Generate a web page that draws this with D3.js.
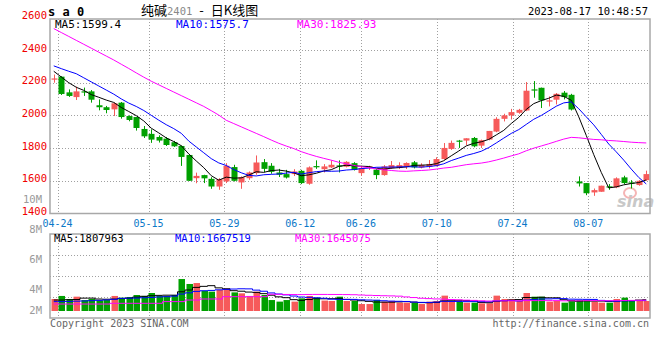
<!DOCTYPE html>
<html><head><meta charset="utf-8">
<script src="https://cdn.jsdelivr.net/npm/d3@7"></script>
<style>body{margin:0;background:#fff}svg{display:block}</style>
</head><body><svg id="c" width="660" height="360"></svg>
<script>
// ---------- data ----------
const dates = ["04-21","04-24","04-25","04-26","04-27","04-28","05-04","05-05","05-08","05-09","05-10","05-11","05-12","05-15","05-16","05-17","05-18","05-19","05-22","05-23","05-24","05-25","05-26","05-29","05-30","05-31","06-01","06-02","06-05","06-06","06-07","06-08","06-09","06-12","06-13","06-14","06-15","06-16","06-19","06-20","06-21","06-26","06-27","06-28","06-29","06-30","07-03","07-04","07-05","07-06","07-07","07-10","07-11","07-12","07-13","07-14","07-17","07-18","07-19","07-20","07-21","07-24","07-25","07-26","07-27","07-28","07-31","08-01","08-02","08-03","08-04","08-07","08-08","08-09","08-10","08-11","08-14","08-15","08-16","08-17"];
const open  = [2222,2237,2141,2112,2147,2147,2062,2050,2037,2078,1996,1990,1917,1887,1868,1858,1836,1813,1758,1616,1635,1612,1565,1596,1684,1590,1616,1647,1714,1692,1651,1641,1641,1661,1582,1690,1671,1682,1694,1686,1708,1647,1678,1668,1635,1678,1678,1688,1713,1682,1686,1692,1733,1795,1846,1846,1862,1815,1852,1901,1979,2000,2016,2030,2159,2169,2086,2096,2139,2126,1596,1586,1529,1533,1566,1560,1621,1590,1574,1604];
const high  = [2250,2240,2159,2176,2170,2155,2098,2058,2080,2082,2000,1990,1935,1915,1878,1868,1844,1817,1760,1650,1637,1622,1616,1708,1698,1627,1657,1755,1733,1708,1673,1667,1671,1667,1688,1725,1702,1725,1725,1720,1714,1692,1692,1672,1696,1721,1713,1713,1721,1707,1727,1744,1831,1846,1850,1860,1868,1852,1905,1989,2010,2040,2040,2204,2210,2170,2116,2137,2149,2132,1627,1586,1553,1570,1580,1621,1631,1604,1604,1662];
const low   = [2200,2125,2113,2094,2119,2078,2031,2013,1996,1980,1964,1907,1862,1832,1834,1813,1807,1691,1599,1585,1586,1551,1545,1586,1596,1551,1606,1637,1653,1643,1623,1614,1629,1580,1576,1673,1651,1678,1651,1682,1663,1631,1666,1610,1631,1672,1672,1672,1676,1676,1676,1688,1729,1789,1801,1819,1805,1801,1848,1897,1963,1975,2010,2026,2108,2045,2055,2067,2098,2030,1565,1512,1508,1533,1545,1555,1580,1553,1570,1600];
const close = [2226,2131,2119,2147,2143,2096,2050,2033,2074,1990,1972,1923,1872,1852,1846,1819,1811,1746,1600,1630,1615,1565,1610,1692,1600,1622,1651,1712,1673,1655,1637,1620,1657,1586,1682,1686,1688,1698,1688,1716,1667,1678,1688,1635,1688,1696,1696,1709,1682,1696,1703,1733,1801,1832,1842,1860,1811,1848,1905,1979,2000,2020,2034,2151,2155,2092,2092,2132,2112,2036,1584,1524,1543,1570,1562,1615,1586,1584,1600,1641];
// volume, millions of lots
const volume = [1.81,2.10,1.81,2.03,1.71,1.81,1.68,1.71,2.10,1.94,2.00,2.19,2.10,2.38,2.10,2.10,2.19,3.71,3.24,3.33,2.60,2.51,2.67,2.79,2.44,2.35,2.10,2.51,2.19,1.71,1.56,1.71,1.56,1.87,2.10,1.94,1.66,1.62,2.03,1.62,1.62,1.33,1.33,1.71,1.56,1.62,1.46,1.46,1.46,1.33,1.56,1.62,2.13,1.56,1.56,1.46,1.46,1.40,1.40,2.13,1.81,1.81,1.62,2.38,2.03,2.03,1.56,1.62,1.46,1.62,1.71,1.71,1.56,1.46,1.46,1.81,1.94,1.62,1.71,1.62];
const ma5Early  = [2270,2235,2200,2172];
const ma10Early = [2303,2286,2270,2255,2230,2205,2180,2155,2130];
const ma30Early = [2531,2507,2483,2459,2435,2411,2387,2363,2339,2313,2287,2260,2234,2209,2187,2165,2143,2121,2099,2077,2055,2029,2002,1970,1950,1930,1910,1890,1870];
const vma5Early  = [1.71,1.71,1.74,1.76];
const vma10Early = [1.56,1.56,1.58,1.60,1.62,1.65,1.68,1.72,1.78];
const vma30Early = [1.33,1.33,1.33,1.33,1.33,1.33,1.33,1.33,1.40,1.40,1.40,1.40,1.40,1.40,1.40,1.56,1.56,1.56,1.71,1.71,1.81,1.81,1.81,2.03,2.03,2.03,2.03,2.03,2.03];
const priceTicks = [2600,2400,2200,2000,1800,1600,1400];
const priceGrid = [2400,2200,2000,1800,1600];
const dateTicks = ["04-24","05-15","05-29","06-12","06-26","07-10","07-24","08-07"];
const volLabelTicks = [10,8,6,4,2];
const volGrid = [6,4,2];
const title = {code:"s a 0", name1:"纯碱", name2:"2401", dash:"-", name3:"日K线图", time:"2023-08-17 10:48:57"};
const priceLegend = ["MA5:1599.4","MA10:1575.7","MA30:1825.93"];
const volLegend = ["MA5:1807963","MA10:1667519","MA30:1645075"];

// ---------- layout ----------
const L=50, R=650, mainTop=19, mainBot=213.5, volTop=234, volBot=318, volBase=311;
const RED="#f65a5a", GREEN="#00a000", MAC=["#000000","#0000ff","#ff00ff"];
const MONO="'DejaVu Sans Mono', monospace";
const svg=d3.select("#c");
const n=dates.length;
const x=d3.scaleBand().domain(d3.range(n)).range([L,R]);
const cx=i=>x(i)+x.bandwidth()/2;
const xg=d3.scaleLinear().domain([0,n-1]).range([L,649]);
const y=d3.scaleLinear().domain([1400,2600]).range([mainBot,17.3]);
const yv=d3.scaleLinear().domain([0,8]).range([volBot,volTop]);
const yvLab=d3.scaleLinear().domain([0,10]).range([350,200]);

function ma(arr,k,early){return arr.map((_,i)=> i<k-1 ? early[i] : d3.mean(arr.slice(i-k+1,i+1)));}
const pm=[ma(close,5,ma5Early),ma(close,10,ma10Early),ma(close,30,ma30Early)];
const vm=[ma(volume,5,vma5Early),ma(volume,10,vma10Early),ma(volume,30,vma30Early)];
const tickIdx=dateTicks.map(d=>dates.indexOf(d));

// ---------- grids ----------
const grid=svg.append("g").attr("stroke","#a0a0a0").attr("stroke-dasharray","1,2").attr("stroke-width",1);
grid.selectAll(".hp").data(priceGrid).join("line")
  .attr("x1",L).attr("x2",R).attr("y1",d=>Math.round(y(d))+0.5).attr("y2",d=>Math.round(y(d))+0.5);
grid.selectAll(".hv").data(volGrid).join("line")
  .attr("x1",L).attr("x2",R).attr("y1",d=>Math.round(yv(d))+0.5).attr("y2",d=>Math.round(yv(d))+0.5);
grid.selectAll(".vp").data(tickIdx).join("line")
  .attr("x1",d=>Math.round(xg(d))+0.5).attr("x2",d=>Math.round(xg(d))+0.5).attr("y1",mainTop).attr("y2",mainBot);
grid.selectAll(".vv").data(tickIdx).join("line")
  .attr("x1",d=>Math.round(xg(d))+0.5).attr("x2",d=>Math.round(xg(d))+0.5).attr("y1",volTop).attr("y2",volBot);

// ---------- watermark ----------
const wm=svg.append("g");
wm.append("ellipse").attr("cx",630).attr("cy",193).attr("rx",6).attr("ry",5).attr("fill","none").attr("stroke","#f5b5b5").attr("stroke-width",2);
wm.append("text").attr("x",617).attr("y",207).attr("font-family","'DejaVu Sans', sans-serif").attr("font-style","italic").attr("font-weight","bold").attr("font-size",16).attr("fill","#c8c8c8").text("sina");

// ---------- candles ----------
const cg=svg.append("g");
const idx=d3.range(n);
const col=i=>close[i]>=open[i]?RED:GREEN;
cg.selectAll("line").data(idx).join("line")
  .attr("x1",i=>Math.round(cx(i))+0.5).attr("x2",i=>Math.round(cx(i))+0.5)
  .attr("y1",i=>y(high[i])).attr("y2",i=>y(low[i])).attr("stroke",col).attr("stroke-width",1);
cg.selectAll("rect").data(idx).join("rect")
  .attr("x",i=>Math.round(cx(i))-2.5).attr("width",6)
  .attr("y",i=>y(Math.max(open[i],close[i])))
  .attr("height",i=>Math.max(1.2,Math.abs(y(open[i])-y(close[i]))))
  .attr("fill",col);

// ---------- MA lines ----------
const lineP=d3.line().x((d,i)=>cx(i)).y(d=>y(d));
pm.forEach((s,k)=>svg.append("path").attr("d",lineP(s)).attr("fill","none").attr("stroke",MAC[k]).attr("stroke-width",1));

// ---------- volume ----------
const vg=svg.append("g");
vg.selectAll("rect").data(idx).join("rect")
  .attr("x",i=>Math.round(cx(i))-2.5).attr("width",6.5)
  .attr("y",i=>yv(volume[i])).attr("height",i=>volBase-yv(volume[i]))
  .attr("fill",col);
const lineV=d3.line().x((d,i)=>cx(i)).y(d=>yv(d)).curve(d3.curveStep);
vm.forEach((s,k)=>svg.append("path").attr("d",lineV(s)).attr("fill","none").attr("stroke",MAC[k]).attr("stroke-width",1));

// ---------- frames ----------
svg.append("rect").attr("x",L).attr("y",mainTop).attr("width",R-L).attr("height",mainBot-mainTop).attr("fill","none").attr("stroke","#a8a8a8").attr("stroke-width",1.5);
svg.append("rect").attr("x",L).attr("y",volTop).attr("width",R-L).attr("height",volBot-volTop).attr("fill","none").attr("stroke","#a8a8a8").attr("stroke-width",1.5);

// ---------- texts ----------
const T=svg.append("g").attr("font-family",MONO);
T.selectAll(".pl").data(priceTicks).join("text")
  .attr("x",47).attr("y",d=>y(d)).attr("dy","0.15em").attr("text-anchor","end")
  .attr("font-size",10.5).attr("fill","#f00000").text(d=>d);
T.selectAll(".vl").data(volLabelTicks).join("text")
  .attr("x",42).attr("y",d=>Math.min(yvLab(d),volBase)).attr("dy","0.3em").attr("text-anchor","end")
  .attr("font-size",10.5).attr("fill","#9a9a9a").text(d=>d+"M");
T.selectAll(".xl").data(dateTicks).join("text")
  .attr("x",d=>xg(dates.indexOf(d))).attr("y",226.5).attr("text-anchor","middle")
  .attr("font-size",10).attr("fill","#0a78c8").text(d=>d);

T.append("text").attr("x",48).attr("y",16).attr("font-size",12).attr("font-weight","bold").attr("fill","#000").text(title.code);
const tt=svg.append("text").attr("x",141).attr("y",15).attr("font-size",13).attr("font-family","'Noto Sans CJK SC', sans-serif");
tt.append("tspan").attr("fill","#000").text(title.name1);
tt.append("tspan").attr("fill","#888").attr("font-family",MONO).attr("font-size",10.5).text(title.name2);
tt.append("tspan").attr("fill","#000").attr("dx",7).text(title.dash);
tt.append("tspan").attr("fill","#000").attr("dx",7).text(title.name3);
T.append("text").attr("x",648).attr("y",15).attr("text-anchor","end").attr("font-size",10.5).attr("fill","#000").text(title.time);

const legX=[55,176,297];
priceLegend.forEach((t,k)=>T.append("text").attr("x",legX[k]).attr("y",28).attr("font-size",11).attr("fill",MAC[k]).text(t));
const vlegX=[54,175,295];
volLegend.forEach((t,k)=>T.append("text").attr("x",vlegX[k]).attr("y",242).attr("font-size",10.5).attr("fill",MAC[k]).text(t));

T.append("text").attr("x",50).attr("y",327).attr("font-size",10).attr("fill","#666").text("Copyright 2023 SINA.COM");
T.append("text").attr("x",649).attr("y",327).attr("text-anchor","end").attr("font-size",10).attr("fill","#666").text("http://finance.sina.com.cn");
</script></body></html>
